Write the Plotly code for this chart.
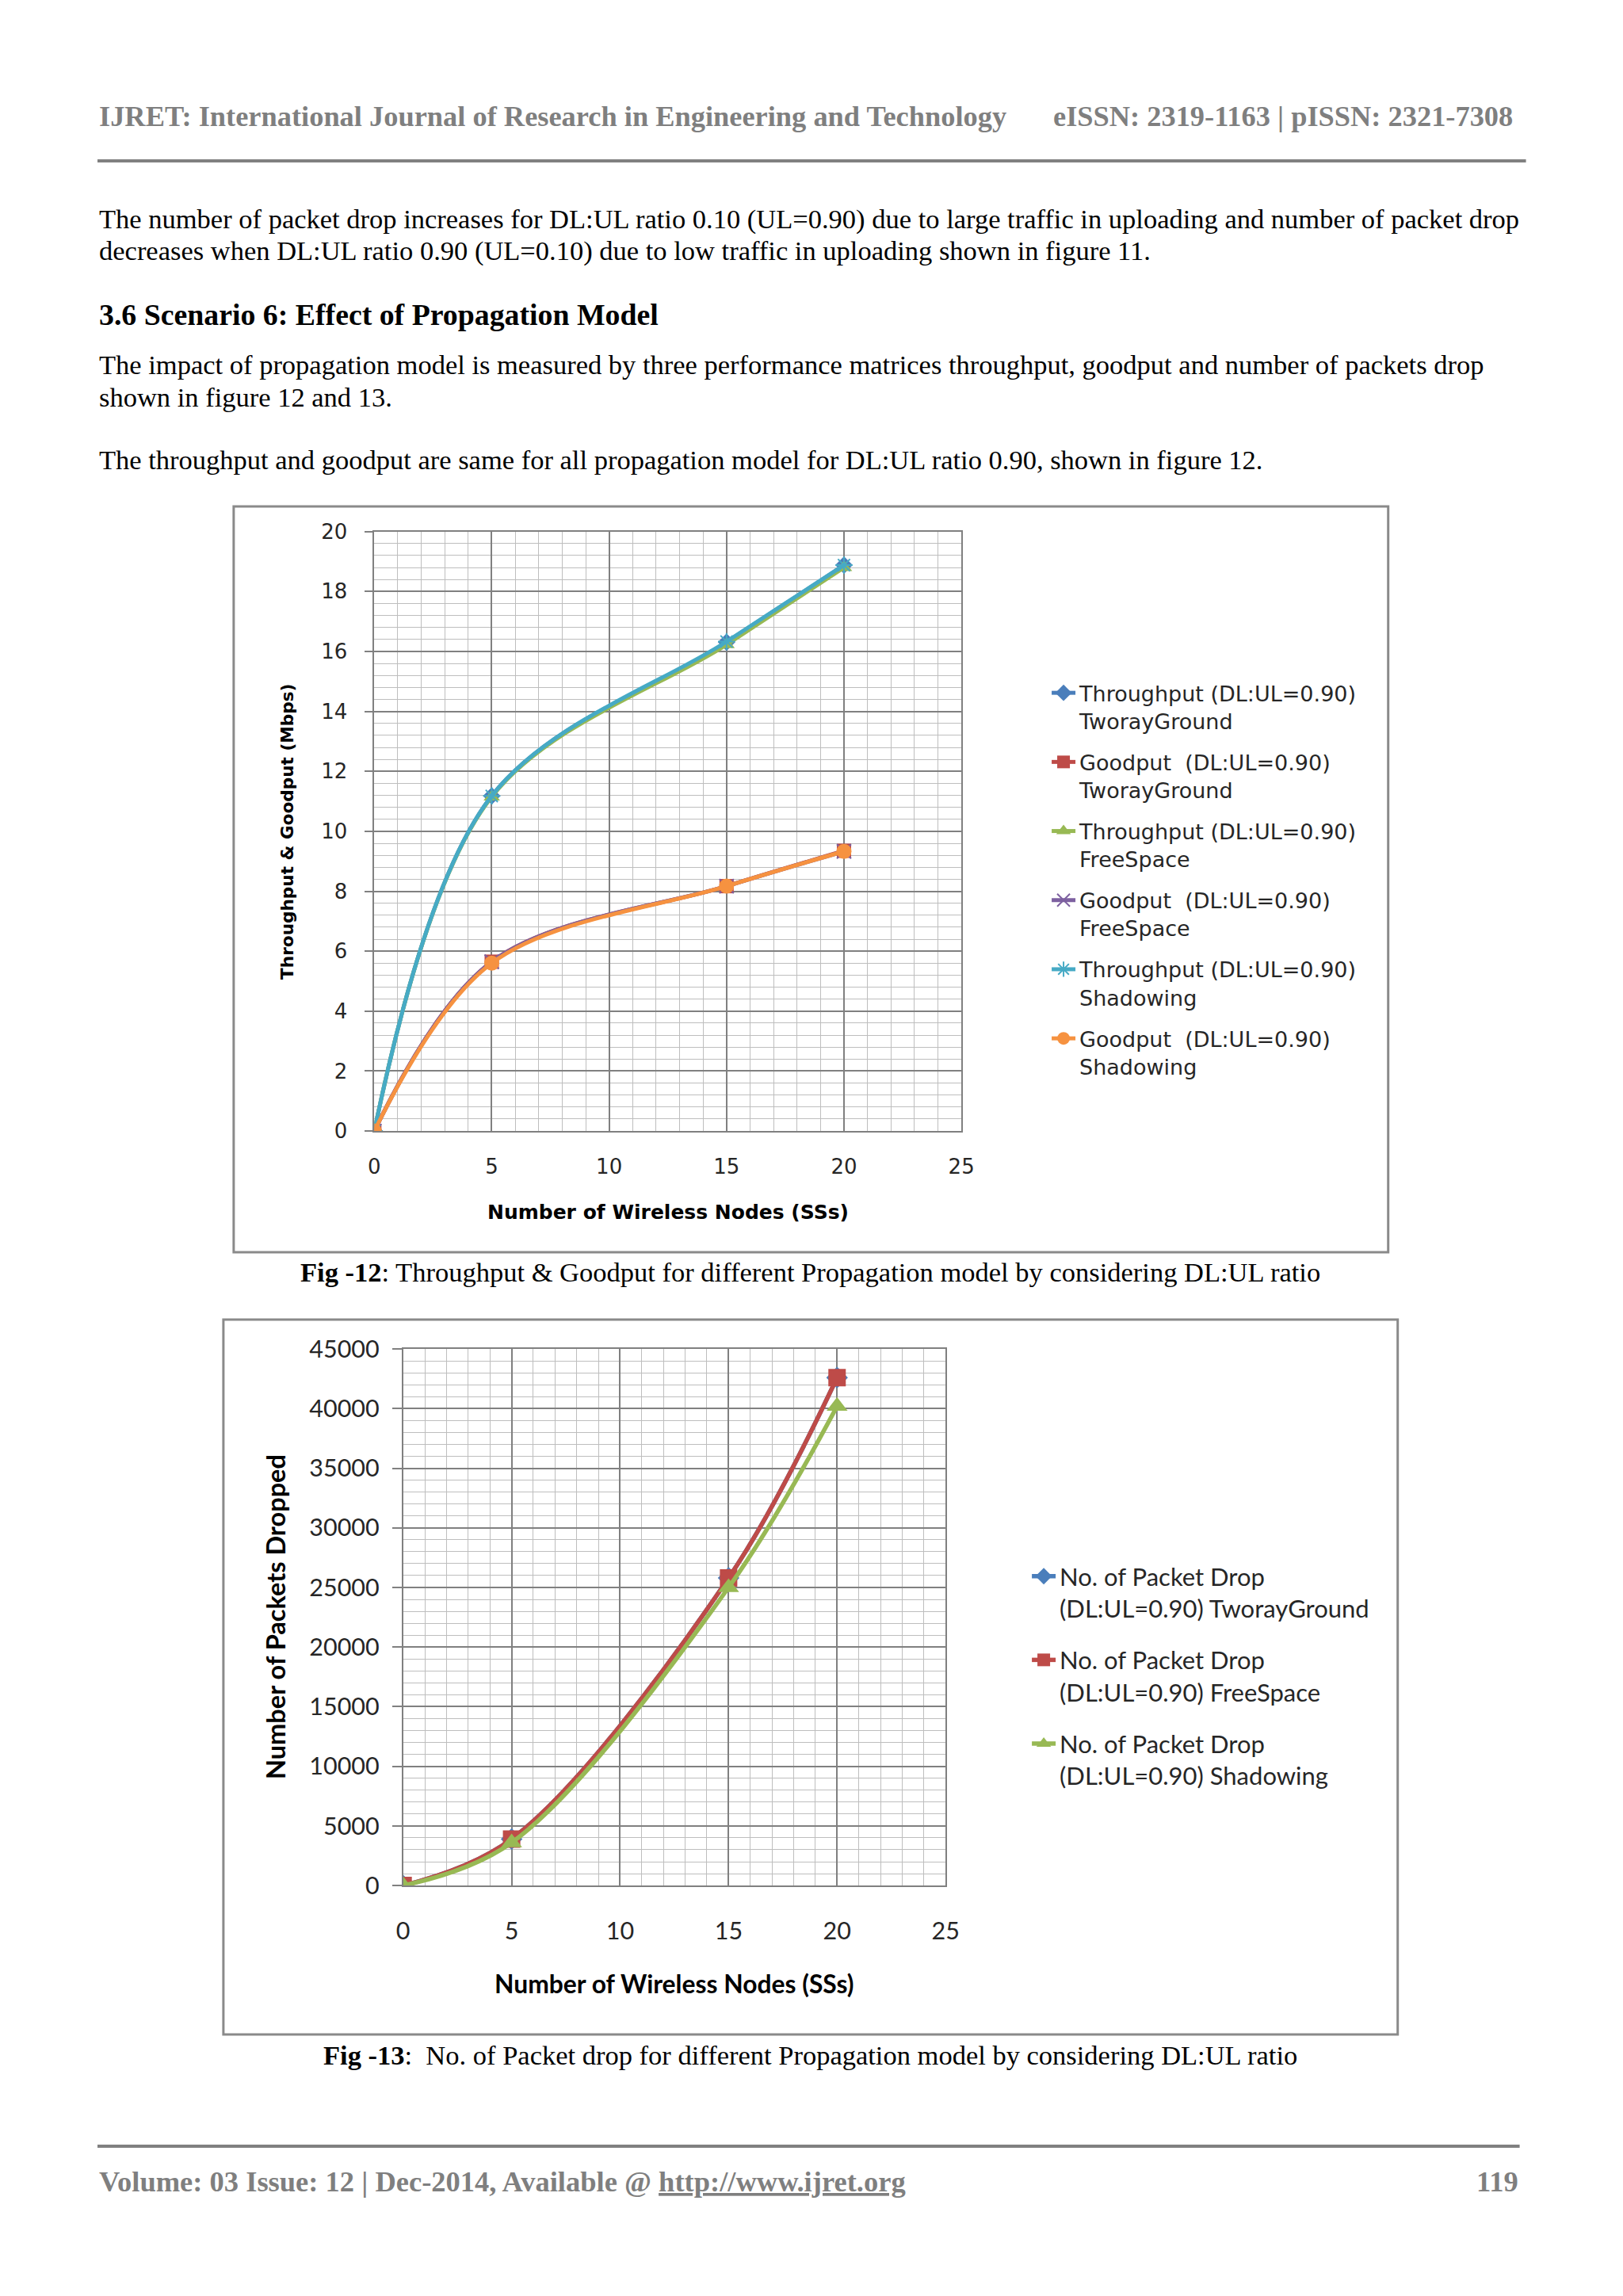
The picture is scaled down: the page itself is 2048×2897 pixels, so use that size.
import plotly.graph_objects as go

# page geometry (browser body has an 8px margin around the plot div)
PAGE_W, PAGE_H = 2048, 2897
OFF = 8
W, H = PAGE_W - 2 * OFF, PAGE_H - 2 * OFF
# empirical correction of the capture (offset + slight scale)
AX, AY, S = 10.0, 19.0, 0.9875

# ---------------- data ----------------
nodes = [0, 5, 15, 20]

thr_tworay = [0, 11.18, 16.31, 18.88]
good_tworay = [0, 5.65, 8.17, 9.35]
thr_free = [0, 11.15, 16.23, 18.80]
good_free = [0, 5.65, 8.17, 9.33]
thr_shadow = [0, 11.18, 16.33, 18.88]
good_shadow = [0, 5.60, 8.17, 9.33]

drop_tworay = [0, 3900, 25800, 42600]
drop_free = [0, 3900, 25800, 42600]
drop_shadow = [0, 3600, 25000, 40200]

x_ticks = [0, 5, 10, 15, 20, 25]
y1_ticks = list(range(0, 21, 2))
y2_ticks = list(range(0, 45001, 5000))

names1 = [
    "Throughput (DL:UL=0.90)<br>TworayGround",
    "Goodput  (DL:UL=0.90)<br>TworayGround",
    "Throughput (DL:UL=0.90)<br>FreeSpace",
    "Goodput  (DL:UL=0.90)<br>FreeSpace",
    "Throughput (DL:UL=0.90)<br>Shadowing",
    "Goodput  (DL:UL=0.90)<br>Shadowing",
]
names2 = [
    "No. of Packet Drop<br>(DL:UL=0.90) TworayGround",
    "No. of Packet Drop<br>(DL:UL=0.90) FreeSpace",
    "No. of Packet Drop<br>(DL:UL=0.90) Shadowing",
]

# ---------------- style ----------------
BLUE, RED, GREEN = "#4A7EBB", "#BE4B48", "#98B954"
PURPLE, CYAN, ORANGE = "#7D60A0", "#46AAC5", "#F69240"
MAJOR, MINOR = "#808080", "#BEBEBE"
SERIF = "Liberation Serif"
F1 = "DejaVu Sans"
F2 = "Lato"


def px(x):
    return ((x - AX) / S - OFF) / W


def py(y):
    return 1 - ((y - AY) / S - OFF) / H


fig = go.Figure()

series1 = [
    (thr_tworay, BLUE, "diamond", 17, None),
    (good_tworay, RED, "square", 18, None),
    (thr_free, GREEN, "triangle-up", 18, None),
    (good_free, PURPLE, "x-thin-open", 18, 2),
    (thr_shadow, CYAN, "asterisk-open", 18, 2),
    (good_shadow, ORANGE, "circle", 19, None),
]
for (vals, col, sym, size, lw), name in zip(series1, names1):
    marker = dict(symbol=sym, size=size, color=col)
    if lw:
        marker["line"] = dict(color=col, width=lw)
    fig.add_trace(go.Scatter(
        x=nodes, y=vals, name=name, mode="lines+markers",
        line=dict(color=col, width=5, shape="spline", smoothing=1.0),
        marker=marker, xaxis="x", yaxis="y", legend="legend",
        legendgroup=name,
    ))

series2 = [
    (drop_tworay, BLUE, "diamond", 21),
    (drop_free, RED, "square", 22),
    (drop_shadow, GREEN, "triangle-up", 23),
]
for (vals, col, sym, size), name in zip(series2, names2):
    fig.add_trace(go.Scatter(
        x=nodes, y=vals, name=name, mode="lines+markers",
        line=dict(color=col, width=5.5, shape="spline", smoothing=1.0),
        marker=dict(symbol=sym, size=size, color=col),
        xaxis="x2", yaxis="y2", legend="legend2", legendgroup=name,
    ))


def axis(domain, rng, ticks, minor, anchor, font, standoff, tick_out):
    d = dict(
        domain=domain, range=rng, tickmode="array", tickvals=ticks,
        tickformat="d",
        showgrid=True, gridcolor=MAJOR, gridwidth=1.6,
        minor=dict(dtick=minor, tick0=0, showgrid=True, gridcolor=MINOR, gridwidth=1.3),
        showline=True, linecolor=MAJOR, linewidth=1.8, mirror=True,
        zeroline=False, anchor=anchor, tickfont=font,
        ticklabelstandoff=standoff, fixedrange=True,
    )
    if tick_out:
        d.update(ticks="outside", ticklen=tick_out, tickcolor=MAJOR, tickwidth=1.6)
    else:
        d.update(ticks="")
    return d


tf1 = dict(family=F1, size=26, color="#262626")
tf2 = dict(family=F2, size=30.5, color="#262626")

fig.update_layout(
    width=W, height=H,
    margin=dict(l=0, r=0, t=0, b=0),
    paper_bgcolor="white", plot_bgcolor="white",
    showlegend=True,
    xaxis=axis([px(473.6), px(1215)], [0, 25], x_ticks, 1, "y", tf1, 21, 0),
    yaxis=axis([py(1427), py(670.6)], [0, 20], y1_ticks, 0.4, "x", tf1, 17, 10),
    xaxis2=axis([px(510), px(1195)], [0, 25], x_ticks, 1, "y2", tf2, 29, 0),
    yaxis2=axis([py(2379), py(1702)], [0, 45000], y2_ticks, 1000, "x2", tf2, 10, 12),
    legend=dict(
        x=px(1324), y=py(850), xanchor="left", yanchor="top",
        font=dict(family=F1, size=27, color="#262626"),
        tracegroupgap=14, valign="top", bgcolor="rgba(0,0,0,0)",
        traceorder="grouped",
    ),
    legend2=dict(
        x=px(1299), y=py(1962), xanchor="left", yanchor="top",
        font=dict(family=F2, size=31, color="#262626"),
        tracegroupgap=22, valign="top", bgcolor="rgba(0,0,0,0)",
        traceorder="grouped",
    ),
)

shapes = [
    dict(type="line", xref="paper", yref="paper", x0=px(124), x1=px(1928),
         y0=py(203), y1=py(203), line=dict(color="#808080", width=4)),
    dict(type="line", xref="paper", yref="paper", x0=px(124), x1=px(1920),
         y0=py(2708), y1=py(2708), line=dict(color="#808080", width=4)),
    dict(type="rect", xref="paper", yref="paper", x0=px(296), x1=px(1754),
         y0=py(639), y1=py(1580), line=dict(color="#8A8A8A", width=3)),
    dict(type="rect", xref="paper", yref="paper", x0=px(283), x1=px(1766),
         y0=py(1665), y1=py(2567), line=dict(color="#8A8A8A", width=3)),
]

ann = []


def text(t, x, y, size=34.5, color="black", anchor="left", family=SERIF, angle=0):
    ann.append(dict(text=t, x=px(x), y=py(y), xref="paper", yref="paper",
                    xanchor=anchor, yanchor="middle", showarrow=False,
                    textangle=angle,
                    font=dict(family=family, size=size, color=color)))


GRAY = "#7F7F7F"
text("<b>IJRET: International Journal of Research in Engineering and Technology</b>",
     124, 147, 36.4, GRAY)
text("<b>eISSN: 2319-1163 | pISSN: 2321-7308</b>", 1913, 147, 36.4, GRAY, "right")

text("The number of packet drop increases for DL:UL ratio 0.10 (UL=0.90) due to large "
     "traffic in uploading and number of packet drop", 124, 276)
text("decreases when DL:UL ratio 0.90 (UL=0.10) due to low traffic in uploading shown "
     "in figure 11.", 124, 316)
text("<b>3.6 Scenario 6: Effect of Propagation Model</b>", 124, 397, 37.8)
text("The impact of propagation model is measured by three performance matrices "
     "throughput, goodput and number of packets drop", 124, 460)
text("shown in figure 12 and 13.", 124, 501)
text("The throughput and goodput are same for all propagation model for DL:UL ratio "
     "0.90, shown in figure 12.", 124, 580)

# chart 1 axis titles
text("<b>Throughput & Goodput (Mbps)</b>", 363, 1049, 21.6, "#000000", "center", F1, -90)
text("<b>Number of Wireless Nodes (SSs)</b>", 845, 1529, 25, "#000000", "center", F1)
text("<b>Fig -12</b>: Throughput & Goodput for different Propagation model by "
     "considering DL:UL ratio", 1024, 1605, 34.5, "black", "center")

# chart 2 axis titles
text("<b>Number of Packets Dropped</b>", 348, 2040, 32.5, "#000000", "center", F2, -90)
text("<b>Number of Wireless Nodes (SSs)</b>", 852, 2503, 31.8, "#000000", "center", F2)
text("<b>Fig -13</b>:  No. of Packet drop for different Propagation model by "
     "considering DL:UL ratio", 1024, 2593, 34.5, "black", "center")

text("<b>Volume: 03 Issue: 12 | Dec-2014, Available @ <u>http://www.ijret.org</u></b>",
     124, 2752, 36.5, GRAY)
text("<b>119</b>", 1920, 2752, 36.5, GRAY, "right")

fig.update_layout(shapes=shapes, annotations=ann)
fig.write_html("out.html")
